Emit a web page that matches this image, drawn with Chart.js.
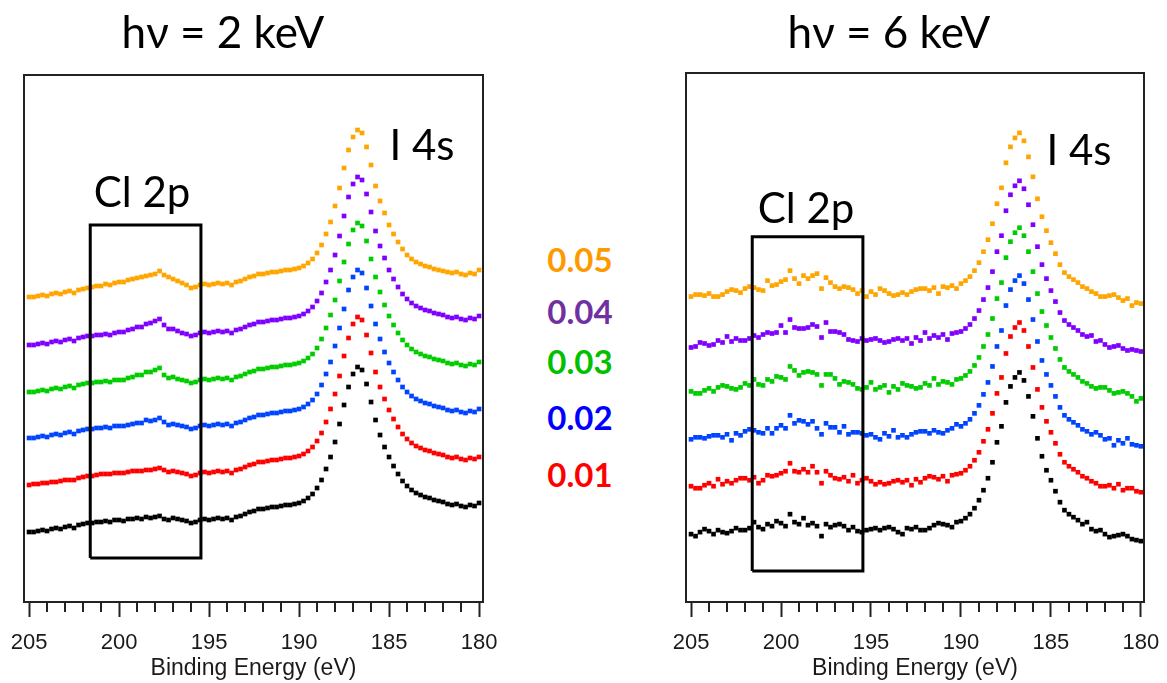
<!DOCTYPE html>
<html>
<head>
<meta charset="utf-8">
<script src="https://cdn.jsdelivr.net/npm/chart.js@4.4.1/dist/chart.umd.min.js"></script>
<style>
  body { margin: 0; background: #fff; width: 1167px; height: 683px; position: relative; overflow: hidden; }
  canvas { position: absolute; top: 0; }
  .txt { position: absolute; white-space: nowrap; line-height: 1; font-family: Lato, "Open Sans", sans-serif; color: #000; transform: translateX(-50%); }
  .title { font-size: 44px; top: 9px; }
  .peak { font-size: 42px; }
  .conc { font-size: 33px; font-weight: bold; left: 580px; }
</style>
</head>
<body>
<canvas id="chart-2kev" width="540" height="683" style="left:-20px"></canvas>
<canvas id="chart-6kev" width="540" height="683" style="left:640px"></canvas>

<div class="txt title" style="left:223px">hν = 2 keV</div>
<div class="txt title" style="left:889px">hν = 6 keV</div>
<div class="txt peak" style="left:142px; top:170px">Cl 2p</div>
<div class="txt peak" style="left:806px; top:186px">Cl 2p</div>
<div class="txt peak" style="left:422px; top:123px">I 4s</div>
<div class="txt peak" style="left:1079px; top:128px">I 4s</div>
<div class="txt conc" style="top:243px; color:#FF9900">0.05</div>
<div class="txt conc" style="top:295px; color:#7030A0">0.04</div>
<div class="txt conc" style="top:345px; color:#00C000">0.03</div>
<div class="txt conc" style="top:401px; color:#0000FF">0.02</div>
<div class="txt conc" style="top:458px; color:#FF0000">0.01</div>

<script>
// Binding energy grid (eV), shared by both panels
const energies = [
  205, 204.75, 204.5, 204.25, 204, 203.75, 203.5, 203.25, 203, 202.75,
  202.5, 202.25, 202, 201.75, 201.5, 201.25, 201, 200.75, 200.5, 200.25,
  200, 199.75, 199.5, 199.25, 199, 198.75, 198.5, 198.25, 198, 197.75,
  197.5, 197.25, 197, 196.75, 196.5, 196.25, 196, 195.75, 195.5, 195.25,
  195, 194.75, 194.5, 194.25, 194, 193.75, 193.5, 193.25, 193, 192.75,
  192.5, 192.25, 192, 191.75, 191.5, 191.25, 191, 190.75, 190.5, 190.25,
  190, 189.75, 189.5, 189.25, 189, 188.75, 188.5, 188.25, 188, 187.75,
  187.5, 187.25, 187, 186.75, 186.5, 186.25, 186, 185.75, 185.5, 185.25,
  185, 184.75, 184.5, 184.25, 184, 183.75, 183.5, 183.25, 183, 182.75,
  182.5, 182.25, 182, 181.75, 181.5, 181.25, 181, 180.75, 180.5, 180.25, 180
];

const majorTicks = [205, 200, 195, 190, 185, 180];
const minorTicks = [204, 203, 202, 201, 199, 198, 197, 196, 194, 193, 192, 191,
                    189, 188, 187, 186, 184, 183, 182, 181];

// Cl 2p marker box (eV, intensity)
const clBoxEnergy = [201.6, 195.45];
const clBox2kev = [44, 377];
const clBox6kev = [31, 366];

// ---- hv = 2 keV (intensity, offset stacked) ----
const k2Black = [
  70,70,71,72,71,73,74,73,75,76,
  74,77,78,79,79,80,80,81,80,82,
  82,81,83,83,84,83,85,84,85,86,
  83,82,84,83,82,81,79,80,82,83,
  82,83,84,83,84,82,85,86,88,90,
  91,93,93,94,95,95,96,97,97,98,
  99,101,104,108,114,122,133,145,160,178,
  197,215,228,235,232,218,200,182,167,155,
  145,136,128,121,116,112,109,107,105,104,
  102,101,100,98,97,98,96,95,97,96,99
];
const k2Red = [
  117,118,118,119,119,120,120,121,122,122,
  122,124,125,126,126,127,128,128,128,129,
  129,129,130,131,131,131,132,132,133,134,
  132,130,131,130,129,128,126,127,129,130,
  129,130,131,130,131,129,132,133,135,137,
  138,140,140,141,142,142,143,144,144,145,
  146,148,151,155,161,169,180,193,208,226,
  246,264,278,285,282,267,249,230,215,203,
  192,183,175,168,163,159,156,154,152,151,
  149,148,147,145,144,145,143,142,144,143,145
];
const k2Blue = [
  164,164,165,166,165,167,168,167,169,170,
  168,171,172,173,173,174,174,175,174,176,
  176,176,177,178,179,179,182,181,182,184,
  180,177,178,177,176,175,173,174,176,177,
  176,177,178,177,178,176,179,180,182,184,
  185,187,187,188,189,189,190,191,191,192,
  193,195,198,202,208,217,228,240,256,274,
  293,312,325,332,329,314,296,278,263,250,
  239,230,222,215,210,206,203,201,199,198,
  196,195,194,192,191,192,190,189,191,190,193
];
const k2Green = [
  210,210,211,212,211,213,214,213,215,216,
  214,217,218,219,219,220,220,221,220,222,
  222,222,224,225,227,227,230,230,232,234,
  227,224,225,223,222,221,219,220,222,223,
  222,223,224,223,224,222,225,226,228,230,
  231,233,233,234,235,235,236,237,237,238,
  239,241,244,248,254,263,274,287,302,321,
  340,358,372,379,376,361,343,325,310,297,
  286,277,269,262,257,253,250,248,246,245,
  243,242,241,239,238,239,237,236,238,237,240
];
const k2Purple = [
  257,257,258,259,258,260,261,260,262,263,
  261,264,265,266,266,267,267,268,267,269,
  270,270,272,273,275,275,278,279,281,283,
  277,273,273,271,269,268,266,267,269,270,
  269,270,271,270,271,269,272,273,275,277,
  278,280,280,281,282,282,283,284,284,285,
  286,288,291,295,301,309,320,332,347,366,
  386,405,418,425,422,408,390,371,356,344,
  332,323,315,308,303,299,296,294,292,291,
  289,288,287,285,284,285,283,282,284,283,286
];
const k2Orange = [
  305,305,306,307,306,308,309,308,310,311,
  309,312,313,314,315,316,316,318,317,319,
  320,320,322,323,324,325,326,327,328,331,
  327,325,323,321,319,317,314,315,317,318,
  317,318,319,318,319,317,320,321,323,325,
  326,328,328,329,330,330,331,332,332,333,
  334,336,339,343,349,357,368,380,396,414,
  434,452,465,472,469,455,437,416,401,389,
  377,368,360,353,347,343,340,338,336,335,
  333,332,331,330,329,330,328,327,329,328,332
];

// ---- hv = 6 keV ----
const k6Black = [
  68,66,70,73,71,68,72,70,69,71,
  74,72,72,74,80,75,73,78,76,81,
  79,76,88,80,78,84,77,79,76,66,
  78,75,77,78,76,72,75,71,70,72,
  73,74,72,74,75,73,70,68,74,73,
  75,72,72,74,77,79,78,77,75,80,
  81,84,88,94,102,112,124,140,160,176,
  200,216,225,230,222,206,186,164,146,132,
  122,111,100,92,88,85,82,78,80,73,
  71,72,68,65,66,67,68,66,63,62,61
];
const k6Red = [
  116,114,114,117,119,116,123,118,121,119,
  122,124,124,122,125,119,122,127,126,127,
  129,131,139,131,130,133,130,136,130,119,
  131,127,124,123,125,121,127,119,122,124,
  121,118,120,118,119,121,122,120,122,117,
  123,120,124,126,125,123,126,121,127,128,
  129,132,136,142,150,161,173,189,209,225,
  249,266,275,280,272,256,235,213,195,181,
  170,159,148,140,136,133,130,126,124,121,
  119,116,116,117,114,118,112,114,114,111,110
];
const k6Blue = [
  163,165,165,164,166,167,167,165,168,162,
  169,167,171,173,172,170,169,174,169,174,
  177,174,187,179,182,181,178,181,174,168,
  179,175,175,170,176,168,170,170,169,167,
  168,165,163,169,166,172,165,167,165,168,
  170,171,171,169,172,170,169,172,174,178,
  176,179,183,189,197,208,220,236,256,272,
  297,313,322,327,319,303,283,261,242,228,
  217,206,195,187,183,180,177,173,171,168,
  170,167,163,164,157,162,159,164,158,157,156
];
const k6Green = [
  211,209,209,212,214,211,215,217,216,214,
  213,215,219,217,223,218,217,223,221,226,
  225,223,236,232,227,230,231,230,228,217,
  228,228,224,218,221,220,218,214,213,215,
  220,213,215,217,210,216,213,219,217,216,
  214,215,219,217,224,218,221,220,218,223,
  224,227,231,237,245,256,268,284,304,320,
  345,361,370,375,367,351,331,309,291,277,
  265,254,243,235,231,228,225,221,219,216,
  214,215,215,212,209,210,211,209,206,201,204
];
const k6Purple = [
  255,256,260,259,257,258,262,260,266,261,
  264,262,262,264,267,265,268,270,269,270,
  277,270,283,275,274,274,275,278,276,265,
  280,271,271,270,268,263,262,261,264,262,
  263,264,262,260,261,263,264,262,264,259,
  265,262,270,264,267,265,268,263,269,270,
  271,274,278,284,292,303,315,331,351,367,
  392,408,417,422,414,398,378,356,338,324,
  312,301,290,282,278,275,272,268,266,267,
  261,262,258,255,256,257,254,252,253,252,251
];
const k6Orange = [
  306,308,308,307,309,306,306,308,311,313,
  312,310,314,316,315,313,312,322,317,318,
  321,323,332,324,319,327,324,327,329,314,
  325,320,316,314,316,315,313,309,312,306,
  311,308,314,312,309,307,308,310,308,311,
  313,314,314,312,315,309,316,315,317,314,
  319,322,326,332,340,351,363,379,399,415,
  440,456,465,470,462,446,426,404,386,372,
  360,349,338,330,326,323,320,316,314,311,
  309,306,306,307,308,305,302,304,297,300,299
];

const seriesColors = ['#FFA500', '#7F00FF', '#00CC00', '#0044FF', '#FF0000', '#000000'];

// frame round the plot area + short minor ticks
const framePlugin = {
  id: 'frame',
  afterDraw(chart) {
    const { ctx, chartArea: a } = chart;
    const x = chart.scales.x;
    ctx.save();
    ctx.strokeStyle = '#222';
    ctx.lineWidth = 2;
    ctx.strokeRect(a.left, a.top, a.right - a.left, a.bottom - a.top);
    ctx.beginPath();
    minorTicks.forEach(v => {
      const px = Math.round(x.getPixelForValue(v));
      ctx.moveTo(px, a.bottom);
      ctx.lineTo(px, a.bottom + 10);
    });
    ctx.stroke();
    ctx.restore();
  }
};

function makePanel(canvasId, seriesList, boxY, pad, xMin, xMax, yMax) {
  const boxPoints = [
    { x: clBoxEnergy[0], y: boxY[0] }, { x: clBoxEnergy[1], y: boxY[0] },
    { x: clBoxEnergy[1], y: boxY[1] }, { x: clBoxEnergy[0], y: boxY[1] },
    { x: clBoxEnergy[0], y: boxY[0] }
  ];
  const datasets = [{
    data: boxPoints,
    showLine: true,
    borderColor: '#000',
    borderWidth: 3,
    pointRadius: 0,
    fill: false
  }];
  seriesList.forEach((vals, i) => {
    datasets.push({
      data: energies.map((e, j) => ({ x: e, y: vals[j] })),
      backgroundColor: seriesColors[i],
      borderWidth: 0,
      pointStyle: 'rect',
      pointRadius: 3.3
    });
  });

  return new Chart(document.getElementById(canvasId), {
    type: 'scatter',
    data: { datasets },
    plugins: [framePlugin],
    options: {
      responsive: false,
      animation: false,
      devicePixelRatio: 1,
      layout: { padding: pad },
      plugins: { legend: { display: false }, tooltip: { enabled: false } },
      scales: {
        x: {
          type: 'linear',
          reverse: true,
          min: xMin,
          max: xMax,
          afterBuildTicks: (scale) => { scale.ticks = majorTicks.map(v => ({ value: v })); },
          afterFit: (scale) => { scale.height = 81; },
          ticks: {
            autoSkip: false,
            maxRotation: 0,
            padding: 13,
            color: '#1a1a1a',
            font: { family: '"Liberation Sans", Arial, sans-serif', size: 22 }
          },
          grid: {
            drawOnChartArea: false,
            drawTicks: true,
            tickLength: 15,
            tickWidth: 2,
            tickColor: '#222'
          },
          border: { display: false },
          title: {
            display: true,
            text: 'Binding Energy (eV)',
            color: '#1a1a1a',
            font: { family: '"Liberation Sans", Arial, sans-serif', size: 23 },
            padding: { top: 0, bottom: 1 }
          }
        },
        y: { display: false, min: 0, max: yMax }
      }
    }
  });
}

// left canvas starts at -20px, right canvas at 640px: generous paddings keep
// the end tick labels from pushing the plot areas in
makePanel('chart-2kev', [k2Orange, k2Purple, k2Green, k2Blue, k2Red, k2Black], clBox2kev,
  { left: 44, right: 37, top: 75, bottom: 0 }, 179.78, 205.28, 527);
makePanel('chart-6kev', [k6Orange, k6Purple, k6Green, k6Blue, k6Red, k6Black], clBox6kev,
  { left: 46, right: 36, top: 73, bottom: 0 }, 179.83, 205.28, 530);
</script>
</body>
</html>
